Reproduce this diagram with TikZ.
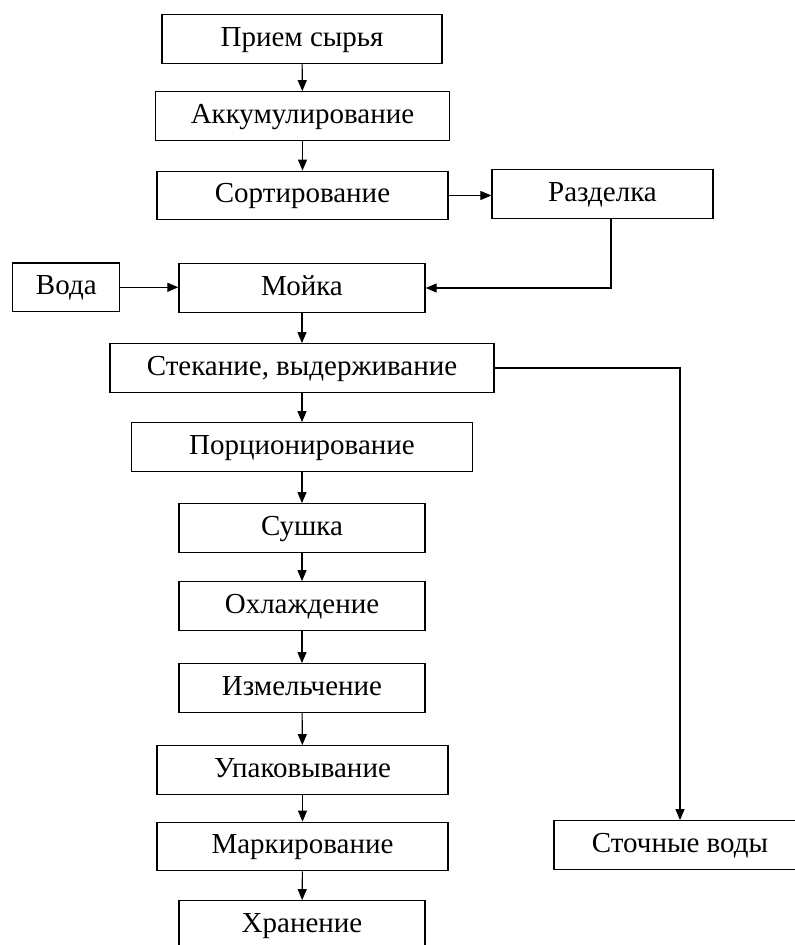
\documentclass[tikz,border=0pt]{standalone}
\usepackage{fontspec}
\setmainfont{Liberation Serif}
\usetikzlibrary{arrows.meta}
\begin{document}
\begin{tikzpicture}[
        x=1pt, y=-1pt,
        stage/.style={draw, line width=1.3pt, inner sep=0pt, minimum height=48.5pt,
            text height=20pt, text depth=6pt, font=\fontsize{29}{34}\selectfont},
        flow/.style={line width=1.1pt, -{Triangle[length=11pt, width=9pt]}},
    ]
    \useasboundingbox (0,0) rectangle (795,945);
    \node[stage, minimum width=280pt] (priem) at (302,39) {Прием сырья};
    \node[stage, minimum width=294pt] (akkum) at (302.5,116) {Аккумулирование};
    \node[stage, minimum width=291pt] (sort) at (302.5,195.5) {Сортирование};
    \node[stage, minimum width=221pt] (razd) at (602.5,194) {Разделка};
    \node[stage, minimum width=107pt] (voda) at (66.3,287.3) {Вода};
    \node[stage, minimum width=246pt] (mojka) at (302,288) {Мойка};
    \node[stage, minimum width=384pt] (stek) at (302,368) {Стекание, выдерживание};
    \node[stage, minimum width=341pt] (porc) at (302,447) {Порционирование};
    \node[stage, minimum width=246pt] (sushka) at (302,528) {Сушка};
    \node[stage, minimum width=246pt] (ohl) at (302,606) {Охлаждение};
    \node[stage, minimum width=246pt] (izm) at (302,688) {Измельчение};
    \node[stage, minimum width=291pt] (upak) at (302.5,770) {Упаковывание};
    \node[stage, minimum width=291pt] (mark) at (302.5,846.5) {Маркирование};
    \node[stage, minimum width=246pt] (hran) at (302,925) {Хранение};
    \node[stage, minimum width=252pt] (stoch) at (680,845) {Сточные воды};
    \draw[flow] (priem) -- (akkum);
    \draw[flow] (akkum) -- (sort);
    \draw[flow] (sort.east) -- (sort.east -| razd.west);
    \draw[flow] ([xshift=8.5pt]razd.south) |- (mojka.east);
    \draw[flow] (voda.east) -- (voda.east -| mojka.west);
    \draw[flow] (mojka) -- (stek);
    \draw[flow] (stek.east) -| (stoch.north);
    \draw[flow] (stek) -- (porc);
    \draw[flow] (porc) -- (sushka);
    \draw[flow] (sushka) -- (ohl);
    \draw[flow] (ohl) -- (izm);
    \draw[flow] (izm) -- (upak);
    \draw[flow] (upak) -- (mark);
    \draw[flow] (mark) -- (hran);
\end{tikzpicture}
\end{document}
